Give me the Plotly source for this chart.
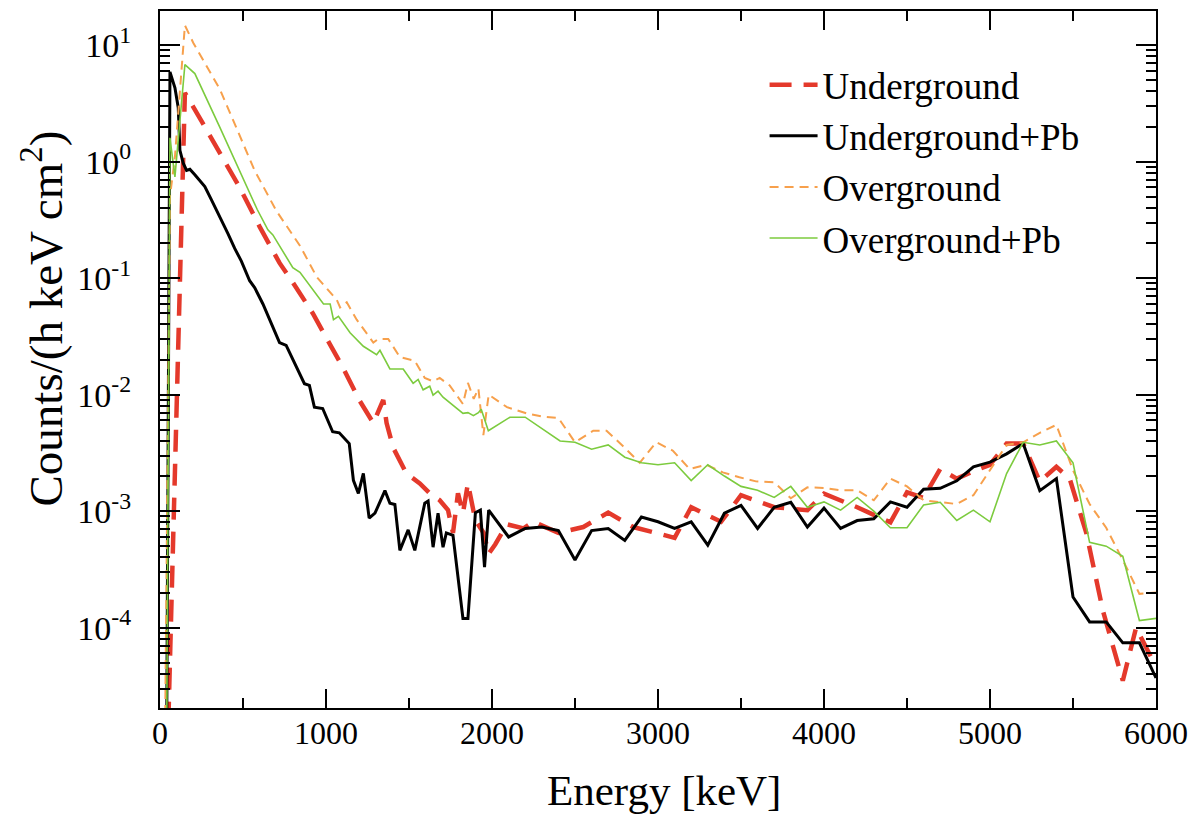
import plotly.graph_objects as go

# ---------------- data ----------------
E_ug = [50, 150, 230, 360, 480, 600, 720, 800, 920, 1000, 1100, 1200, 1285, 1345, 1365, 1405,
        1485, 1565, 1625, 1685, 1735, 1765, 1795, 1825, 1855, 1900, 1950, 1980, 2020, 2090,
        2190, 2250, 2400, 2550, 2700, 2850, 3100, 3200, 3380, 3500, 3700, 3900, 4000, 4200,
        4400, 4500, 4600, 4700, 4800, 4900, 5000, 5100, 5200, 5300, 5400, 5480, 5580, 5680,
        5800, 5880, 6000]
Y_ug = [1.5e-5, 3.9, 2.5, 1.17, 0.6, 0.277, 0.135, 0.092, 0.050, 0.031, 0.0173, 0.009, 0.0057,
        0.009, 0.0057, 0.0035, 0.0021, 0.00173, 0.00142, 0.00124, 0.00102, 0.00065, 0.00142,
        0.00096, 0.00173, 0.00083, 0.00065, 0.00043, 0.00052, 0.00077, 0.00071, 0.00081,
        0.00065, 0.00073, 0.00097, 0.00073, 0.00059, 0.00108, 0.00081, 0.00137, 0.00108,
        0.00102, 0.00141, 0.00108, 0.0008, 0.00145, 0.0013, 0.0023, 0.0019, 0.0022, 0.0025,
        0.0038, 0.0038, 0.0018, 0.0024, 0.0019, 0.00065, 0.00014, 0.000035, 0.0001, 0.000046]

E_ugpb = [40, 60, 90, 110, 120, 140, 160, 180, 210, 270, 310, 370, 410, 450, 490, 540, 570, 620,
          680, 720, 760, 870, 900, 930, 980, 1040, 1080, 1140, 1165, 1195, 1225, 1260, 1295,
          1355, 1385, 1415, 1445, 1495, 1535, 1595, 1615, 1645, 1675, 1705, 1725, 1765, 1825,
          1855, 1900, 1930, 1955, 1980, 2100, 2200, 2300, 2400, 2500, 2600, 2700, 2800, 2900,
          3000, 3100, 3200, 3300, 3400, 3500, 3600, 3700, 3800, 3900, 4000, 4100, 4200, 4300,
          4400, 4500, 4600, 4700, 4800, 4900, 5000, 5100, 5200, 5300, 5400, 5500, 5600, 5700,
          5800, 5900, 6000]
Y_ugpb = [1e-5, 5.9, 4.3, 2.9, 1.25, 0.97, 0.84, 0.86, 0.77, 0.61, 0.47, 0.32, 0.24, 0.18, 0.14,
          0.095, 0.083, 0.06, 0.038, 0.028, 0.0265, 0.0124, 0.012, 0.0078, 0.0076, 0.0048,
          0.0047, 0.0038, 0.00184, 0.00142, 0.00211, 0.00087, 0.00096, 0.0015, 0.00117, 0.00114,
          0.00046, 0.00069, 0.00046, 0.00117, 0.00122, 0.00049, 0.00096, 0.00049, 0.00065,
          0.00062, 0.00012, 0.00012, 0.00097, 0.00102, 0.00033, 0.00102, 0.0006, 0.00071,
          0.00073, 0.00068, 0.00038, 0.00068, 0.00071, 0.00056, 0.00089, 0.00081, 0.00071,
          0.00081, 0.00051, 0.00096, 0.00112, 0.00071, 0.00108, 0.00119, 0.00073, 0.00106,
          0.00071, 0.00083, 0.00086, 0.0012, 0.00108, 0.00154, 0.00157, 0.00182, 0.0024,
          0.00263, 0.0031, 0.0038, 0.0015, 0.0019, 0.000183, 0.000112, 0.000112, 0.000074,
          0.000074, 0.000037]

E_og = [30, 60, 90, 150, 200, 360, 570, 700, 843, 945, 1065, 1085, 1125, 1185, 1285, 1315, 1375,
        1445, 1535, 1595, 1645, 1685, 1745, 1825, 1855, 1890, 1918, 1948, 1980, 2090, 2210,
        2300, 2400, 2500, 2610, 2690, 2790, 2890, 2990, 3090, 3190, 3290, 3390, 3490, 3590,
        3700, 3800, 3900, 4000, 4100, 4200, 4300, 4400, 4500, 4600, 4800, 4900, 5000, 5100,
        5200, 5300, 5400, 5500, 5600, 5700, 5800, 5900, 6000]
Y_og = [1e-5, 0.5, 1.1, 14.8, 10.5, 4.2, 0.84, 0.38, 0.19, 0.102, 0.065, 0.056, 0.062, 0.044,
        0.028, 0.030, 0.030, 0.021, 0.0195, 0.0139, 0.013, 0.0139, 0.012, 0.0083, 0.0126,
        0.0092, 0.0113, 0.0045, 0.0100, 0.0078, 0.0069, 0.0065, 0.0063, 0.0039, 0.0049, 0.0049,
        0.0036, 0.0026, 0.0039, 0.0033, 0.0023, 0.0025, 0.00215, 0.00195, 0.0018, 0.00177,
        0.00129, 0.0016, 0.00158, 0.00151, 0.00151, 0.00124, 0.0019, 0.00163, 0.00124,
        0.00115, 0.00137, 0.00224, 0.0037, 0.0039, 0.0047, 0.0055, 0.00224, 0.00115, 0.00072,
        0.00038, 0.000195, 0.0002]

E_ogpb = [40, 60, 90, 150, 210, 360, 585, 650, 680, 800, 843, 945, 985, 1025, 1045, 1075, 1145,
          1225, 1305, 1325, 1385, 1465, 1525, 1555, 1585, 1625, 1645, 1675, 1705, 1825, 1855,
          1888, 1918, 1935, 1978, 2108, 2200, 2410, 2500, 2600, 2700, 2800, 2900, 3000, 3100,
          3200, 3300, 3400, 3500, 3600, 3700, 3800, 3900, 4000, 4100, 4200, 4300, 4400, 4500,
          4600, 4700, 4800, 4900, 5000, 5100, 5200, 5300, 5400, 5500, 5600, 5700, 5800, 5900,
          6000]
Y_ogpb = [1e-5, 1.6, 0.74, 6.8, 5.7, 1.98, 0.39, 0.26, 0.235, 0.123, 0.112, 0.072, 0.060, 0.060,
          0.044, 0.047, 0.034, 0.026, 0.022, 0.024, 0.0166, 0.0166, 0.0125, 0.0135, 0.011,
          0.0118, 0.0099, 0.0107, 0.0095, 0.0069, 0.0070, 0.0066, 0.0070, 0.0075, 0.0049,
          0.0064, 0.0064, 0.0040, 0.0039, 0.0034, 0.0037, 0.0029, 0.0026, 0.0025, 0.0026,
          0.00183, 0.0025, 0.0020, 0.00163, 0.00151, 0.00131, 0.00163, 0.00108, 0.0012,
          0.00102, 0.00131, 0.001, 0.00072, 0.00072, 0.00113, 0.00119, 0.00083, 0.00102,
          0.00081, 0.0021, 0.0039, 0.0037, 0.004, 0.0026, 0.00054, 0.0005, 0.00041, 0.000115,
          0.00012]

x_ticks = [0, 1000, 2000, 3000, 4000, 5000, 6000]
y_tick_exp = [-4, -3, -2, -1, 0, 1]

# ---------------- figure ----------------
FONT = "Liberation Serif"
fig = go.Figure()
fig.add_trace(go.Scatter(x=E_ug, y=Y_ug, mode="lines", name="Underground",
                         line=dict(color="#e4392b", width=4.5, dash="22px,12px")))
fig.add_trace(go.Scatter(x=E_ugpb, y=Y_ugpb, mode="lines", name="Underground+Pb",
                         line=dict(color="black", width=3)))
fig.add_trace(go.Scatter(x=E_og, y=Y_og, mode="lines", name="Overground",
                         line=dict(color="#f7a04c", width=2, dash="9px,6px")))
fig.add_trace(go.Scatter(x=E_ogpb, y=Y_ogpb, mode="lines", name="Overground+Pb",
                         line=dict(color="#7ccb3e", width=1.6)))

y_minor = [m * 10 ** e for e in range(-5, 2) for m in range(2, 10)]

# the page body keeps an 8px default margin, so the figure is 8px smaller than the window
fig.update_layout(
    width=1194, height=814,
    margin=dict(l=152, r=46, t=3, b=114),
    paper_bgcolor="white", plot_bgcolor="white",
    font=dict(family=FONT, color="black", size=32),
    showlegend=True,
    legend=dict(x=0.607, y=0.938, xanchor="left", yanchor="top",
                bgcolor="rgba(0,0,0,0)", font=dict(size=37, family=FONT),
                itemwidth=48, tracegroupgap=0),
    xaxis=dict(range=[0, 6000], tickvals=x_ticks, ticks="inside", ticklen=19, tickwidth=2,
               tickcolor="black", showline=True, linecolor="black", linewidth=2,
               mirror="allticks", showgrid=False, zeroline=False, automargin=False,
               tickfont=dict(size=32), ticklabelstandoff=-4,
               minor=dict(dtick=500, tick0=0, ticks="inside", ticklen=10, tickwidth=2,
                          tickcolor="black", showgrid=False)),
    yaxis=dict(type="log", range=[-4.69, 1.293],
               tickvals=[10 ** e for e in y_tick_exp],
               ticktext=["10<sup>%d</sup>" % e for e in y_tick_exp],
               ticks="inside", ticklen=20, tickwidth=2, tickcolor="black",
               showline=True, linecolor="black", linewidth=2, mirror="allticks",
               showgrid=False, zeroline=False, automargin=False, tickfont=dict(size=34),
               ticklabelstandoff=20,
               minor=dict(tickvals=y_minor, ticks="inside", ticklen=10, tickwidth=2,
                          tickcolor="black", showgrid=False)),
    annotations=[
        dict(text="Counts/(h keV cm<sup>2</sup>)", textangle=-90,
             xref="paper", yref="paper", x=-0.118, y=0.5595,
             xanchor="center", yanchor="middle", showarrow=False,
             font=dict(size=47, family=FONT)),
        dict(text="Energy [keV]", xref="paper", yref="paper", x=0.506, y=-0.119,
             xanchor="center", yanchor="middle", showarrow=False,
             font=dict(size=43, family=FONT)),
    ],
)

fig.write_html("out.html")
